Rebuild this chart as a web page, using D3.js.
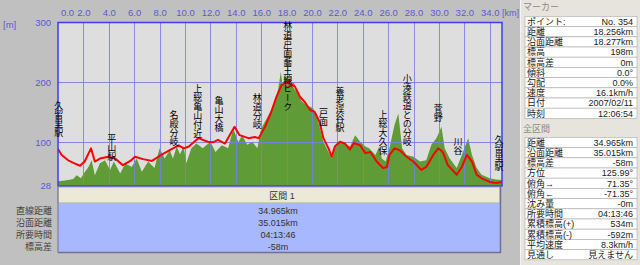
<!DOCTYPE html>
<html><head><meta charset="utf-8">
<script src="https://cdn.jsdelivr.net/npm/d3@7"></script>
<style>body{margin:0;background:#c0c0c0;overflow:hidden}svg{display:block}</style>
</head><body><svg id="c" width="640" height="265"></svg>
<script>
// ---------- data ----------
const kmTicks = [0,2,4,6,8,10,12,14,16,18,20,22,24,26,28,30,32,34];
const elevTicks = [300,200,100,28];
const totalKm = 34.965;
const routeKm   = [0,0.29,0.8,1.3,1.73,2.1,2.6,2.9,3.3,3.96,4.5,5.1,5.7,6.06,6.7,7.4,7.9,8.8,9.5,9.9,10.3,11.05,11.8,12.2,12.6,13.15,13.9,14.3,15.0,15.5,15.8,16.3,16.8,17.2,17.6,18.0,18.256,18.66,19.05,19.45,19.85,20.2,20.6,20.9,21.3,21.55,21.8,22.2,22.6,23.0,23.3,23.8,24.2,24.6,25.1,25.6,25.9,26.1,26.5,26.9,27.45,27.98,28.6,29.0,29.55,29.95,30.3,30.7,31.4,31.8,32.2,32.6,32.97,33.36,34.0,34.5,34.965];
const routeElev = [89,79,70,65,61,68,90,68,73,76,73,62,69,76,72,69,76,87,95,90,93,107,101,100,104,98,126,112,107,109,107,126,151,176,195,201,198,193,176,167,154,151,134,107,90,76,93,101,98,88,99,95,82,84,68,57,59,79,90,87,76,68,54,59,79,90,84,62,46,59,79,68,46,40,34,32,34];
const terrainKm   = [0,0.4,0.8,1.2,1.47,1.8,2.1,2.4,2.65,2.9,3.3,3.7,4.1,4.4,4.9,5.3,5.8,6.2,6.6,7.1,7.6,8.0,8.4,8.8,9.05,9.35,9.6,9.9,10.1,10.5,10.9,11.4,12.0,12.4,12.9,13.4,13.8,14.2,14.5,14.9,15.3,15.7,16.0,16.56,17.1,17.35,17.55,17.7,17.85,18.1,18.4,18.8,19.2,19.6,20.1,20.5,20.9,21.3,21.55,21.8,22.2,22.6,23.0,23.4,23.8,24.2,24.5,25.0,25.3,25.5,25.8,26.1,26.5,26.8,27.1,27.45,28.0,28.5,29.0,29.4,29.8,30.2,30.45,30.85,31.4,31.8,32.3,32.6,32.97,33.36,34.0,34.5,34.965];
const terrainElev = [35,36,37,39,45,40,50,59,70,45,65,70,54,68,48,65,59,73,51,68,57,90,73,87,73,93,80,93,65,90,98,90,101,84,95,90,123,100,112,96,101,90,123,145,168,190,218,193,210,207,195,184,168,162,157,134,101,84,73,90,101,98,93,112,101,93,90,79,93,73,68,90,129,148,90,79,76,68,70,96,107,126,90,73,57,79,107,79,57,46,40,38,37];
const placeNames = ["久留里駅","平山駅","名殿分岐","上総亀山付近","亀山大橋","林道分岐","林道戸面蕎王線ピーク","戸面","養老渓谷駅","上総大久保","小湊鉄道との分岐","菅野","川谷","久留里駅"];
const placeKm    = [0.05,4.23,9.13,11.0,12.68,15.7,18.09,20.9,22.2,25.6,27.5,29.95,31.5,34.72];
const placeTopElev = [162,107,145.5,190.5,170.5,175.5,295.5,149,184,145.5,207,157,100.5,104];
const markerKm = 18.256, markerElev = 198;
const sectionTitle = "区間 1";
const sectionLabels = ["直線距離","沿面距離","所要時間","標高差"];
const sectionValues = ["34.965km","35.015km","04:13:46","-58m"];
const markerTitle = "マーカー";
const markerLabels = ["ポイント:","距離","沿面距離","標高","標高差","傾斜","勾配","速度","日付","時刻"];
const markerValues = ["No. 354","18.256km","18.277km","198m","0m","0.0°","0.0%","16.1km/h","2007/02/11","12:06:54"];
const totalTitle = "全区間";
const totalLabels = ["距離","沿面距離","標高差","方位","俯角→","俯角←","沈み量","所要時間","累積標高(+)","累積標高(-)","平均速度","見通し"];
const totalValues = ["34.965km","35.015km","-58m","125.99°","71.35°","-71.35°","-0m","04:13:46","534m","-592m","8.3km/h","見えません"];

// ---------- drawing ----------
const FONT = "'Noto Sans CJK JP', sans-serif";
const TFONT = "'Liberation Sans', 'Noto Sans CJK JP', sans-serif";
const NUMFONT = "'Liberation Sans', Arial, sans-serif";
const svg = d3.select("#c");
const L = 58, R = 502, T = 22.5, B = 186;
const x = d3.scaleLinear().domain([0, totalKm]).range([L, R]);
const y = d3.scaleLinear().domain([28, 300]).range([185.5, T]);

svg.append("rect").attr("width",640).attr("height",265).attr("fill","#c0c0c0");

// plot background
svg.append("rect").attr("x",L).attr("y",T).attr("width",R-L).attr("height",B-T).attr("fill","#dedede");
svg.append("clipPath").attr("id","pc").append("rect").attr("x",L).attr("y",T).attr("width",R-L).attr("height",B-T);
const plot = svg.append("g").attr("clip-path","url(#pc)");

const terrain = terrainKm.map((k,i)=>[k,terrainElev[i]]);
plot.append("path").datum(terrain)
  .attr("d", d3.area().x(d=>x(d[0])).y0(B).y1(d=>y(d[1])))
  .attr("fill","#5f9b36");

// grid
const gridCol = "#7c7ce4";
plot.selectAll(".vg").data(kmTicks.filter(d=>d>0)).join("line")
  .attr("x1",d=>Math.round(x(d))+0.5).attr("x2",d=>Math.round(x(d))+0.5).attr("y1",T).attr("y2",B)
  .attr("stroke",gridCol).attr("stroke-width",1).attr("opacity",0.85);
plot.selectAll(".hg").data([200,100]).join("line")
  .attr("x1",L).attr("x2",R).attr("y1",d=>Math.round(y(d))+0.5).attr("y2",d=>Math.round(y(d))+0.5)
  .attr("stroke",gridCol).attr("stroke-width",1.2).attr("opacity",0.9);

// route line
const route = routeKm.map((k,i)=>[k,routeElev[i]]);
plot.append("path").datum(route)
  .attr("d", d3.line().x(d=>x(d[0])).y(d=>y(d[1])))
  .attr("fill","none").attr("stroke","#ff0000").attr("stroke-width",2).attr("stroke-linejoin","round");

// frame
svg.append("rect").attr("x",L).attr("y",T).attr("width",R-L).attr("height",B-T)
  .attr("fill","none").attr("stroke","#3c3cf0").attr("stroke-width",1.5);

// marker icon
const mx = x(markerKm), my = y(markerElev);
const mk = svg.append("g").attr("transform",`translate(${mx},${my})`);
mk.append("circle").attr("cx",-2.5).attr("cy",1.5).attr("r",2).attr("fill","none").attr("stroke","#c03020").attr("stroke-width",1);
mk.append("circle").attr("cx",2.5).attr("cy",1.5).attr("r",2).attr("fill","none").attr("stroke","#c03020").attr("stroke-width",1);
mk.append("circle").attr("cx",0).attr("cy",-3.5).attr("r",2).attr("fill","#e05030");

// place labels (vertical writing)
svg.append("g").selectAll("text").data(placeNames).join("text")
  .attr("x",(d,i)=>x(placeKm[i]))
  .attr("y",(d,i)=>y(placeTopElev[i]) - 4.5)
  .style("writing-mode","vertical-rl")
  .attr("font-family",FONT).attr("font-size",9).attr("fill","#000")
  .text(d=>d);

// axes
const xa = svg.append("g").attr("transform","translate(0,20)")
  .call(d3.axisTop(x).tickValues(kmTicks).tickFormat(d3.format(".1f")).tickSize(0).tickPadding(4));
xa.select(".domain").remove();
xa.selectAll("text").attr("font-family",NUMFONT).attr("font-size",9.5).attr("fill","#5a5ad6")
  .attr("dx",d=>d===0?9:0);
svg.append("text").attr("x",502).attr("y",16).attr("font-family",NUMFONT).attr("font-size",9).attr("fill","#5a5ad6").text("[km]");

const ya = svg.append("g").attr("transform",`translate(${L},0)`)
  .call(d3.axisLeft(y).tickValues(elevTicks).tickSize(0).tickPadding(7));
ya.select(".domain").remove();
ya.selectAll("text").attr("font-family",NUMFONT).attr("font-size",9.5).attr("fill","#5a5ad6");
svg.append("text").attr("x",3).attr("y",28).attr("font-family",NUMFONT).attr("font-size",9.5).attr("fill","#5a5ad6").text("[m]");

function column(items, xPos, yOf, anchor, color){
  svg.append("g").selectAll("text").data(items).join("text")
    .attr("text-anchor",anchor).attr("font-family",TFONT).attr("font-size",9).attr("fill",color)
    .attr("x",xPos).attr("y",(d,i)=>yOf(i)).text(d=>d);
}

// section table
svg.append("rect").attr("x",58).attr("y",187).attr("width",442).attr("height",16).attr("fill","#ece9d8").attr("stroke","#9a9a9a").attr("stroke-width",0.8);
svg.append("rect").attr("x",58).attr("y",203).attr("width",442).attr("height",49.5).attr("fill","#a8b8ff");
svg.append("path").attr("d","M58,252.5H500.5V187").attr("fill","none").attr("stroke","#707090").attr("stroke-width",1.5);
svg.append("line").attr("x1",58).attr("x2",58).attr("y1",187).attr("y2",252.5).attr("stroke","#707090").attr("stroke-width",1);
svg.append("text").attr("x",282).attr("y",199.3).attr("text-anchor","middle").attr("font-family",TFONT).attr("font-size",9).attr("fill","#333").text(sectionTitle);
const rowY = d3.scaleLinear().domain([0,3]).range([211,246.7]);
column(sectionLabels, 52, i=>rowY(i)+3.3, "end", "#444");
column(sectionValues, 278, i=>rowY(i)+3.3, "middle", "#333");

// right panel
const P = 520.5;
svg.append("rect").attr("x",P).attr("y",0).attr("width",640-P).attr("height",265).attr("fill","#e6e4dc");
svg.append("line").attr("x1",P).attr("x2",P).attr("y1",0).attr("y2",265).attr("stroke","#f4f4f4").attr("stroke-width",1);
svg.append("text").attr("x",523).attr("y",9.5).attr("font-family",TFONT).attr("font-size",9).attr("fill","#8a8a8a").text(markerTitle);
svg.append("text").attr("x",523).attr("y",131.5).attr("font-family",TFONT).attr("font-size",9).attr("fill","#8a8a8a").text(totalTitle);

function table(labels, values, top){
  const rh = 10.2;
  svg.append("g").selectAll("rect").data(labels).join("rect")
    .attr("x",525).attr("y",(d,i)=>top+i*rh).attr("width",112).attr("height",rh)
    .attr("fill","#fff").attr("stroke","#b4b4b4").attr("stroke-width",0.7);
  const yOf = i => top + i*rh + rh/2 + 3.3;
  column(labels, 527, yOf, "start", "#222");
  column(values, 633, yOf, "end", "#222");
}
table(markerLabels, markerValues, 16.4);
table(totalLabels, totalValues, 137.4);
</script></body></html>
